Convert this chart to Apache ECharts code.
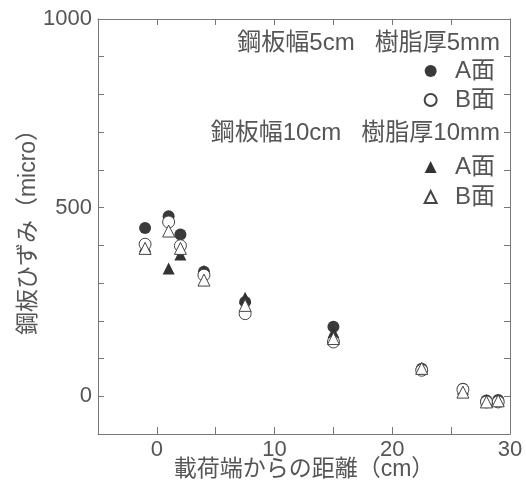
<!DOCTYPE html>
<html>
<head>
<meta charset="utf-8">
<script src="https://cdn.jsdelivr.net/npm/echarts@6/dist/echarts.min.js"></script>
<style>
  html, body { margin: 0; padding: 0; background: #fff; }
  #chart { width: 526px; height: 485px; }
</style>
</head>
<body>
<div id="chart"></div>
<script>
// 距離 (cm) と ひずみ (micro)
var xA5 = [-1, 1, 2, 4, 7.5, 15, 22.5, 26, 28, 29];
var yA5 = [446, 477, 429, 330, 250, 184, 73, 20, -11, -10];
var xB5 = [-1, 1, 2, 4, 7.5, 15, 22.5, 26, 28, 29];
var yB5 = [403, 462, 399, 321, 219, 144, 69, 18, -15, -15];
var xA10 = [-1, 1, 2, 4, 7.5, 15, 22.5, 26, 28, 29];
var yA10 = [398, 339, 376, 332, 261, 170, 72, 20, -10, -10];
var xB10 = [-1, 1, 2, 4, 7.5, 15, 22.5, 26, 28, 29];
var yB10 = [392, 438, 392, 308, 241, 153, 74, 11, -15, -12];

var xLabels = [0, 10, 20, 30];
var yLabels = [0, 500, 1000];

function pairs(xs, ys) {
  return xs.map(function (x, i) { return [x, ys[i]]; });
}

var font = 'Liberation Sans, Noto Sans CJK JP, sans-serif';
var ink = '#555';
var chart = echarts.init(document.getElementById('chart'));

var option = {
  animation: false,
  grid: { left: 98, top: 19, right: 16, bottom: 51, outerBoundsMode: 'none' },
  xAxis: [{
    type: 'value', min: -5, max: 30, interval: 5,
    name: '載荷端からの距離（cm）', nameLocation: 'middle', nameGap: 24, nameMoveOverlap: false,
    nameTextStyle: { fontFamily: font, fontSize: 23, color: ink },
    axisLine: { onZero: false, lineStyle: { color: '#777' } },
    axisTick: { inside: true, length: 7, lineStyle: { color: '#777' } },
    splitLine: { show: false },
    axisLabel: {
      fontFamily: font, fontSize: 22, color: ink, margin: 5,
      formatter: function (v) { return xLabels.indexOf(v) >= 0 ? String(v) : ''; }
    }
  }, {
    type: 'value', position: 'top', min: -5, max: 30, interval: 5,
    axisLine: { onZero: false, lineStyle: { color: '#777' } },
    axisTick: { inside: true, length: 6, lineStyle: { color: '#777' } },
    axisLabel: { show: false }, splitLine: { show: false }
  }],
  yAxis: [{
    type: 'value', min: -100, max: 1000, interval: 100,
    name: '鋼板ひずみ（micro）', nameLocation: 'middle', nameGap: 58, nameMoveOverlap: false, nameRotate: 90,
    nameTextStyle: { fontFamily: font, fontSize: 23, color: ink },
    axisLine: { show: true, onZero: false, lineStyle: { color: '#777' } },
    axisTick: { show: true, inside: true, length: 6, lineStyle: { color: '#777' } },
    splitLine: { show: false },
    axisLabel: {
      fontFamily: font, fontSize: 22, color: ink, margin: 6,
      formatter: function (v) { return yLabels.indexOf(v) >= 0 ? String(v) : ''; }
    }
  }, {
    type: 'value', position: 'right', min: -100, max: 1000, interval: 100,
    axisLine: { show: true, onZero: false, lineStyle: { color: '#777' } },
    axisTick: { show: true, inside: true, length: 6, lineStyle: { color: '#777' } },
    axisLabel: { show: false }, splitLine: { show: false }
  }],
  legend: [{
    data: ['5cm A面', '5cm B面'], orient: 'vertical', right: 26, top: 54,
    itemWidth: 12, itemHeight: 12, itemGap: 5,
    textStyle: { fontFamily: font, fontSize: 24, lineHeight: 24, color: ink },
    formatter: function (n) { return '  ' + n.split(' ')[1]; }
  }, {
    data: ['10cm A面', '10cm B面'], orient: 'vertical', right: 26, top: 150,
    itemWidth: 12, itemHeight: 12, itemGap: 6,
    textStyle: { fontFamily: font, fontSize: 24, lineHeight: 24, color: ink },
    formatter: function (n) { return '  ' + n.split(' ')[1]; }
  }],
  graphic: [{
    type: 'text', right: 26, top: 31,
    style: { text: '鋼板幅5cm   樹脂厚5mm', font: '24px ' + font, fill: ink }
  }, {
    type: 'text', right: 26, top: 121,
    style: { text: '鋼板幅10cm   樹脂厚10mm', font: '24px ' + font, fill: ink }
  }],
  // A面を先に、B面（白抜き）を上に重ねる
  series: [{
    name: '5cm A面', type: 'scatter', symbol: 'circle', symbolSize: 12,
    itemStyle: { color: '#3a3a3a', opacity: 1 },
    data: pairs(xA5, yA5)
  }, {
    name: '10cm A面', type: 'scatter', symbol: 'triangle', symbolSize: 12,
    itemStyle: { color: '#333', opacity: 1 },
    data: pairs(xA10, yA10)
  }, {
    name: '5cm B面', type: 'scatter', symbol: 'circle', symbolSize: 12,
    itemStyle: { color: '#fff', borderColor: '#444', borderWidth: 1, opacity: 1 },
    data: pairs(xB5, yB5)
  }, {
    name: '10cm B面', type: 'scatter', symbol: 'triangle', symbolSize: 12,
    itemStyle: { color: '#fff', borderColor: '#444', borderWidth: 1, opacity: 1 },
    data: pairs(xB10, yB10)
  }]
};

chart.setOption(option);
</script>
</body>
</html>
